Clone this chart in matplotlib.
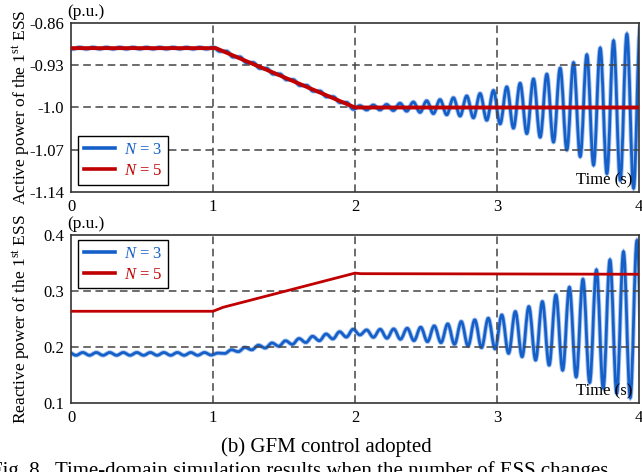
import numpy as np
import matplotlib
matplotlib.use("Agg")
import matplotlib.pyplot as plt
from matplotlib.path import Path
from matplotlib.patches import PathPatch
from matplotlib.lines import Line2D

plt.rcParams["font.family"] = ["Liberation Serif", "DejaVu Serif"]
plt.rcParams["mathtext.fontset"] = "custom"
plt.rcParams["mathtext.rm"] = "Liberation Serif"
plt.rcParams["mathtext.it"] = "Liberation Serif:italic"

BLUE = "#1560c8"
HALO = "#a9c4ee"
RED = "#c00000"

# ---- active power of the 1st ESS ----
# N = 5 : breakpoints
p5_t = [0.0, 1.02, 2.0, 4.0]
p5_v = [-0.902, -0.902, -1.0, -1.0]

# N = 3 : successive extrema (half period 0.047 s, first one at t = -0.033 s)
p3_start = [-0.9005,
            -0.9035, -0.9005, -0.9035, -0.9005, -0.9035, -0.9005, -0.9035, -0.9005,
            -0.9035, -0.9005, -0.9035, -0.9005, -0.9035, -0.9005, -0.9035, -0.9005,
            -0.9035, -0.9005, -0.9035, -0.9005, -0.9035, -0.9005,
            -0.9073, -0.9070, -0.9167, -0.9164, -0.9261, -0.9258, -0.9355, -0.9352,
            -0.9449, -0.9446, -0.9543, -0.9540, -0.9637, -0.9634, -0.9731, -0.9728,
            -0.9825, -0.9822, -0.9919, -0.9916, -1.003, -0.997, -1.004]
p3_peaks = [-0.996, -0.995, -0.993, -0.991, -0.989, -0.987, -0.984, -0.981, -0.977, -0.972,
            -0.966, -0.960, -0.953, -0.945, -0.935, -0.926, -0.913, -0.902, -0.890, -0.879]
p3_troughs = [-1.004, -1.005, -1.006, -1.008, -1.010, -1.012, -1.014, -1.017, -1.021, -1.027,
              -1.034, -1.043, -1.049, -1.057, -1.070, -1.081, -1.095, -1.109, -1.120, -1.133]
p3_end = [-0.865]

# ---- reactive power of the 1st ESS ----
q5_t = [0.0, 1.0, 1.07, 2.0, 2.04, 4.0]
q5_v = [0.264, 0.264, 0.271, 0.332, 0.331, 0.330]

# N = 3 : successive extrema (half period 0.0476 s, first one at t = -0.012 s)
q3_start = [0.1905,
            0.1855, 0.1905, 0.1855, 0.1905, 0.1855, 0.1905, 0.1855, 0.1905,
            0.1855, 0.1905, 0.1855, 0.1905, 0.1855, 0.1905, 0.1855, 0.1905,
            0.1855, 0.1905, 0.1855, 0.1905, 0.1860, 0.1895,
            0.1888, 0.1954, 0.1920, 0.1995, 0.1953, 0.2035, 0.1985, 0.2075,
            0.2017, 0.2114, 0.2050, 0.2154, 0.2083, 0.2194, 0.2115, 0.2235,
            0.2147, 0.2275, 0.2180, 0.2320]
q3_troughs = [0.2218, 0.2176, 0.2159, 0.2141, 0.2117, 0.2099, 0.2081, 0.2052, 0.2022, 0.1992,
              0.1970, 0.189, 0.183, 0.177, 0.168, 0.159, 0.147, 0.137, 0.127, 0.118, 0.110]
q3_peaks = [0.2307, 0.2319, 0.2325, 0.2337, 0.2355, 0.2379, 0.2414, 0.2456, 0.2486, 0.2515,
            0.2574, 0.2634, 0.2723, 0.2812, 0.2931, 0.3068, 0.3210, 0.3377, 0.3555, 0.3700, 0.3900]
q3_end = [0.100]

p3 = p3_start + [v for pair in zip(p3_peaks, p3_troughs) for v in pair] + p3_end
q3 = q3_start + [v for pair in zip(q3_troughs, q3_peaks) for v in pair] + q3_end
p3_t = -0.033 + 0.047 * np.arange(len(p3))
q3_t = -0.0124 + 0.0476 * np.arange(len(q3))


def wave(ax, t, v, color, lw):
    # smooth curve through the extrema (horizontal tangent at each one)
    verts = [(t[0], v[0])]
    codes = [Path.MOVETO]
    for i in range(1, len(t)):
        dt = t[i] - t[i - 1]
        verts += [(t[i - 1] + 0.364 * dt, v[i - 1]), (t[i] - 0.364 * dt, v[i]), (t[i], v[i])]
        codes += [Path.CURVE4] * 3
    path = Path(verts, codes)
    ax.add_patch(PathPatch(path, fill=False, edgecolor=HALO, lw=lw + 1.3, capstyle="round"))
    ax.add_patch(PathPatch(path, fill=False, edgecolor=color, lw=lw, capstyle="round"))


def style(ax, ylim, yticks, ylabel):
    ax.set_xlim(0, 4)
    ax.set_ylim(*ylim)
    ax.set_xticks([0, 1, 2, 3, 4])
    ax.set_yticks(yticks)
    ax.tick_params(length=0, labelsize=12, pad=5)
    for s in ax.spines.values():
        s.set_linewidth(1.2)
        s.set_color("#333333")
    for x in [1, 2, 3]:
        ax.axvline(x, color="#444444", lw=1.1, ls=(0, (5, 3)), zorder=1)
    for y in yticks[1:-1]:
        ax.axhline(y, color="#444444", lw=1.1, ls=(0, (5, 3)), zorder=1)
    ax.set_ylabel(ylabel, fontsize=12.5)
    ax.yaxis.set_label_coords(-0.068, 0.5)
    ax.text(0.988, 0.025, "Time (s)", transform=ax.transAxes, ha="right", va="bottom", fontsize=12)
    ax.text(-0.006, 1.015, "(p.u.)", transform=ax.transAxes, ha="left", va="bottom", fontsize=12.5)


def legend(ax, **kw):
    handles = [Line2D([], [], color=BLUE, lw=2.6), Line2D([], [], color=RED, lw=2.6)]
    leg = ax.legend(handles, [r"$N$ = 3", r"$N$ = 5"], fontsize=12, frameon=True,
                    fancybox=False, edgecolor="black", framealpha=1, borderaxespad=0,
                    handlelength=1.9, handletextpad=0.5, borderpad=0.35, labelspacing=0.3, **kw)
    leg.get_frame().set_linewidth(1.0)
    for txt, c in zip(leg.get_texts(), [BLUE, RED]):
        txt.set_color(c)


fig = plt.figure(figsize=(6.42, 4.72), dpi=100)
ax1 = fig.add_axes([0.1106, 0.5926, 0.8847, 0.3593])
ax2 = fig.add_axes([0.1106, 0.1456, 0.8847, 0.3566])

wave(ax1, p3_t, p3, BLUE, 2.0)
ax1.plot(p5_t, p5_v, color=RED, lw=2.8, zorder=3)
style(ax1, (-1.14, -0.86), [-1.14, -1.07, -1.0, -0.93, -0.86],
      r"Active power of the 1$^{\rm st}$ ESS")
ax1.set_yticklabels(["-1.14", "-1.07", "-1.0", "-0.93", "-0.86"])
legend(ax1, loc="lower left", bbox_to_anchor=(0.012, 0.045))

wave(ax2, q3_t, q3, BLUE, 2.0)
ax2.plot(q5_t, q5_v, color=RED, lw=2.0, zorder=3)
style(ax2, (0.1, 0.4), [0.1, 0.2, 0.3, 0.4], r"Reactive power of the 1$^{\rm st}$ ESS")
legend(ax2, loc="upper left", bbox_to_anchor=(0.012, 0.972))

fig.text(0.508, 0.052, "(b) GFM control adopted", ha="center", va="center", fontsize=15)
fig.text(-0.014, 0.002, "Fig. 8.  Time-domain simulation results when the number of ESS changes",
         ha="left", va="center", fontsize=15)

fig.savefig("out.png", dpi=100)
